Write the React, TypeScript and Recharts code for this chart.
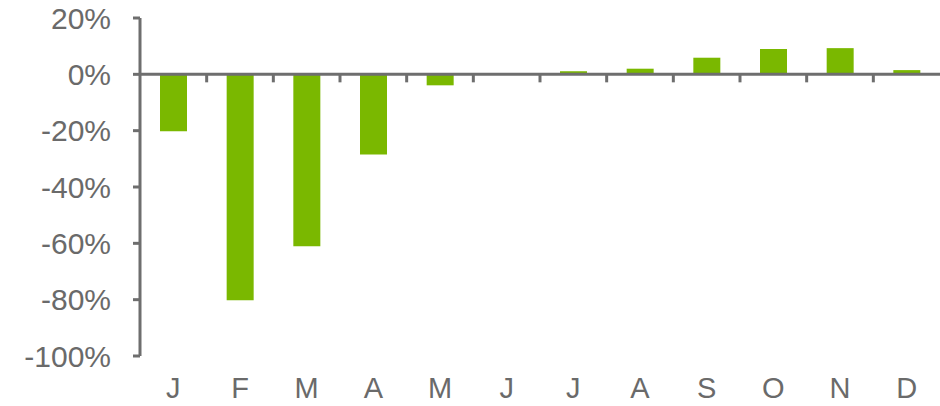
import { BarChart, Bar, XAxis, YAxis, ReferenceLine } from 'recharts';

const months = ['J', 'F', 'M', 'A', 'M', 'J', 'J', 'A', 'S', 'O', 'N', 'D'];
const changes = [-20.2, -80.2, -61, -28.5, -3.9, 0, 1.1, 2.0, 5.9, 9.0, 9.3, 1.5];
const yTicks = [-100, -80, -60, -40, -20, 0, 20];

const data = months.map((m, i) => ({ key: `${m}-${i}`, month: m, change: changes[i] }));

const axisColor = '#6e6e6e';
const textColor = '#6a6a6a';
const barColor = '#7ab800';
const font = 'Liberation Sans, Arial, sans-serif';

// zero line with small tick marks at the category boundaries
function ZeroLine(props: any) {
  const { x1, x2, y1 } = props;
  const step = (x2 - x1) / months.length;
  const marks = [];
  for (let i = 1; i < months.length; i++) {
    const x = x1 + i * step;
    marks.push(<line key={i} x1={x} x2={x} y1={y1} y2={y1 + 8} stroke={axisColor} strokeWidth={3} />);
  }
  return (
    <g>
      <line x1={x1} x2={x2} y1={y1} y2={y1} stroke={axisColor} strokeWidth={3} />
      {marks}
    </g>
  );
}

export default function App() {
  return (
    <div style={{ position: 'absolute', left: 0, top: 0, background: '#fff' }}>
      <BarChart
        width={940}
        height={406}
        data={data}
        margin={{ top: 18, right: 0, bottom: 0, left: 0 }}
        barCategoryGap="30%"
      >
        <XAxis
          dataKey="key"
          tickFormatter={(v: string) => v.split('-')[0]}
          interval={0}
          axisLine={false}
          tickLine={false}
          tickSize={0}
          tickMargin={21}
          height={50}
          tick={{ fill: textColor, fontSize: 29, fontFamily: font }}
        />
        <YAxis
          domain={[-100, 20]}
          ticks={yTicks}
          interval={0}
          width={140}
          tickFormatter={(v: number) => `${v}%`}
          axisLine={{ stroke: axisColor, strokeWidth: 3 }}
          tickLine={{ stroke: axisColor, strokeWidth: 3 }}
          tickSize={7}
          tickMargin={22}
          tick={{ fill: textColor, fontSize: 30, fontFamily: font }}
        />
        <Bar dataKey="change" fill={barColor} isAnimationActive={false} />
        <ReferenceLine y={0} shape={<ZeroLine />} />
      </BarChart>
    </div>
  );
}
